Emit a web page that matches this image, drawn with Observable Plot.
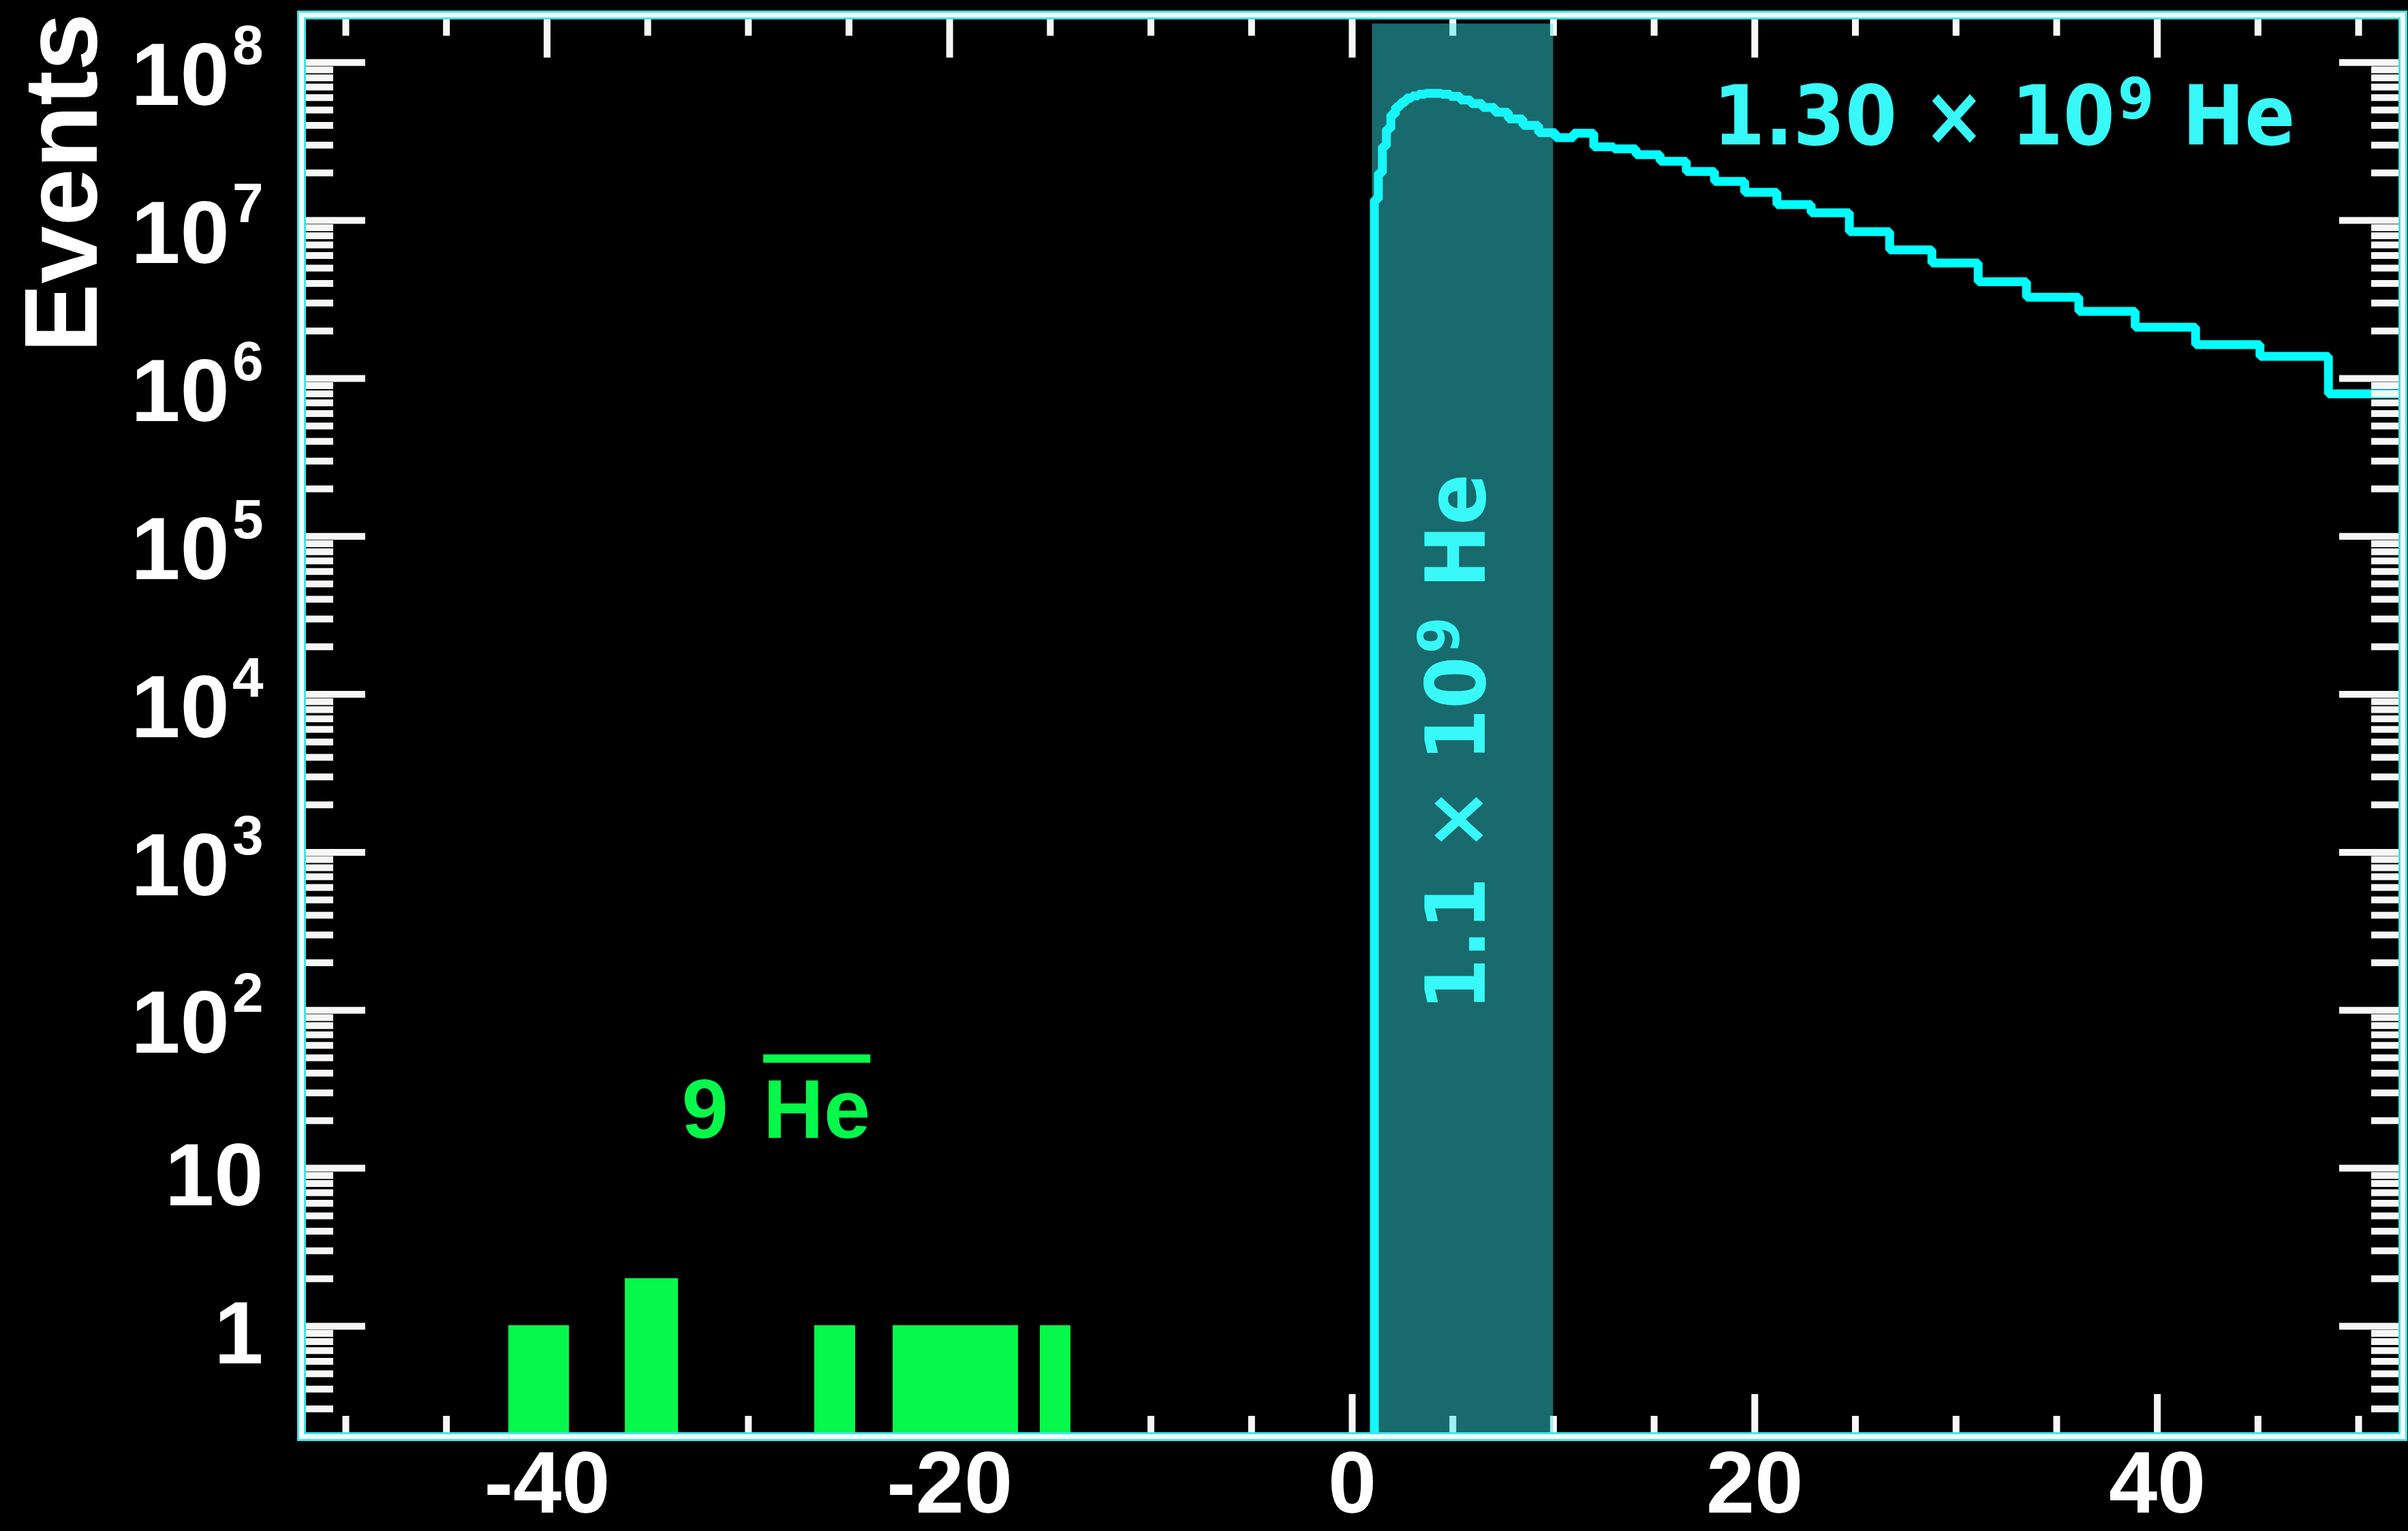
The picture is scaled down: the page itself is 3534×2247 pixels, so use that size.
<!DOCTYPE html>
<html>
<head>
<meta charset="utf-8">
<script src="https://cdn.jsdelivr.net/npm/d3@7"></script>
<script src="https://cdn.jsdelivr.net/npm/@observablehq/plot@0.6"></script>
<style>
html, body { margin: 0; padding: 0; background: #000; }
#chart svg { display: block; }
</style>
</head>
<body>
<div id="chart"></div>
<script>
// ---- Data ----
// Helium (positive rigidity) histogram: bin edges (GV) and events per bin
const heEdges = [1.1, 1.3, 1.5, 1.7, 1.92, 2.15, 2.4, 2.67, 2.97, 3.29, 3.64, 4.02, 4.43, 4.88, 5.37, 5.9, 6.47, 7.09, 7.76, 8.48, 9.26, 10.1, 11.0, 12.0, 13.0, 14.1, 15.3, 16.6, 18.0, 19.5, 21.1, 22.8, 24.7, 26.7, 28.8, 31.1, 33.5, 36.1, 38.9, 41.9, 45.1, 48.5, 52.2];
const heCounts = [1.36e7, 2.0e7, 2.95e7, 3.8e7, 4.7e7, 5.25e7, 5.6e7, 5.95e7, 6.15e7, 6.3e7, 6.38e7, 6.38e7, 6.3e7, 6.1e7, 5.8e7, 5.5e7, 5.2e7, 4.85e7, 4.4e7, 4.0e7, 3.6e7, 3.35e7, 3.57e7, 2.93e7, 2.84e7, 2.61e7, 2.37e7, 2.04e7, 1.77e7, 1.51e7, 1.26e7, 1.12e7, 8.5e6, 6.52e6, 5.38e6, 4.1e6, 3.27e6, 2.66e6, 2.11e6, 1.64e6, 1.38e6, 8.0e5];
// Antihelium candidates (negative rigidity)
const antiLo = [-41.9, -36.1, -26.7, -22.8, -21.1, -19.5, -18.0, -15.5];
const antiHi = [-38.9, -33.5, -24.7, -21.1, -19.5, -18.0, -16.6, -14.0];
const antiCounts = [1, 2, 1, 1, 1, 1, 1, 1];
// Highlighted rigidity band
const bandRange = [1.0, 10.0];
// Axes
const xDomain = [-52.2, 52.2];
const yDomain = [0.2, 2e8];
const xMajorTicks = [-40, -20, 0, 20, 40];
const xMinorTicks = [-50, -45, -35, -30, -25, -15, -10, -5, 5, 10, 15, 25, 30, 35, 45, 50];
const yMajorTicks = [1, 10, 1e2, 1e3, 1e4, 1e5, 1e6, 1e7, 1e8];
const yTickLabels = ["1", "10", "10^2", "10^3", "10^4", "10^5", "10^6", "10^7", "10^8"];
// Texts
const yAxisTitle = "Events";
const heTotalLabel = "1.30 × 10^9 He";
const bandLabel = "1.1 × 10^9 He";
const antiCountLabel = "9";
const antiSymbol = "He";

// ---- Derived tables ----
const yMinorTicks = [];
for (let e = -1; e <= 8; e++) {
  for (let m = 2; m <= 9; m++) {
    const v = m * Math.pow(10, e);
    if (v > yDomain[0] * 1.01 && v < yDomain[1] * 0.99) yMinorTicks.push(v);
  }
}
const hePoints = [{x: heEdges[0], y: yDomain[0]}];
heCounts.forEach((c, i) => hePoints.push({x: heEdges[i], y: c}));
hePoints.push({x: heEdges[heEdges.length - 1], y: heCounts[heCounts.length - 1]});
const antiBins = antiCounts.map((c, i) => ({x1: antiLo[i], x2: antiHi[i], n: c}));
const yLabelFor = new Map(yMajorTicks.map((v, i) => [v, yTickLabels[i]]));

const tickStroke = "#f6f6f6";
const cyan = "#00ffff";
const cyanText = "#38f8f8";
const green = "#06f84a";
const sans = "'Liberation Sans', Arial, Helvetica, sans-serif";
const verd = "'DejaVu Sans', Verdana, sans-serif";

function tickAxis(fn, anchor, ticks, size) {
  return fn({anchor, ticks, tickSize: size, fill: "none", label: null, stroke: tickStroke, strokeWidth: 10});
}

const chart = Plot.plot({
  width: 3534,
  height: 2247,
  marginLeft: 442,
  marginRight: 8,
  marginTop: 21.5,
  marginBottom: 139,
  style: {background: "black", color: "white", fontFamily: sans, fontWeight: "bold"},
  x: {domain: xDomain},
  y: {type: "log", domain: yDomain},
  marks: [
    Plot.line(hePoints, {x: "x", y: "y", curve: "step-after", stroke: cyan, strokeWidth: 13, strokeLinejoin: "miter", strokeLinecap: "butt"}),
    tickAxis(Plot.axisY, "left", yMajorTicks, -94),
    tickAxis(Plot.axisY, "left", yMinorTicks, -47),
    tickAxis(Plot.axisY, "right", yMajorTicks, -94),
    tickAxis(Plot.axisY, "right", yMinorTicks, -47),
    tickAxis(Plot.axisX, "bottom", xMajorTicks, -62),
    tickAxis(Plot.axisX, "bottom", xMinorTicks, -30),
    tickAxis(Plot.axisX, "top", xMajorTicks, -62),
    tickAxis(Plot.axisX, "top", xMinorTicks, -30),
    Plot.rect([bandRange], {x1: d => d[0], x2: d => d[1], fill: "rgb(53,236,240)", fillOpacity: 0.45, insetTop: 13}),
    Plot.rect(antiBins, {x1: "x1", x2: "x2", y1: yDomain[0], y2: "n", fill: green, stroke: green, strokeWidth: 1, shapeRendering: "crispEdges"}),
    Plot.axisY({anchor: "left", ticks: yMajorTicks, tickSize: 0, tickPadding: 56, stroke: "none", fill: "white",
      tickFormat: d => yLabelFor.get(d), fontSize: 130, fontWeight: "bold", fontFamily: sans, dy: 13, label: null}),
    Plot.axisX({anchor: "bottom", ticks: xMajorTicks, tickSize: 0, tickPadding: 21, stroke: "none", fill: "white",
      tickFormat: d => String(d), fontSize: 128, fontWeight: "bold", fontFamily: sans, label: null}),
    Plot.text([yAxisTitle], {frameAnchor: "top-left", dx: -301, dy: 246.5, rotate: -90, textAnchor: "middle", lineAnchor: "bottom",
      fontSize: 152, fontWeight: "bold", fontFamily: sans, fill: "white"}),
    Plot.text([heTotalLabel], {x: 32.39, y: 3.02e7, text: d => d, textAnchor: "middle", lineAnchor: "bottom",
      fontSize: 121, fontWeight: "bold", fontFamily: verd, fill: cyanText}),
    Plot.text([bandLabel], {x: 6.6, y: 4970, text: d => d, rotate: -90, textAnchor: "middle", lineAnchor: "bottom",
      fontSize: 121, fontWeight: "bold", fontFamily: verd, fill: cyanText}),
    Plot.text([antiCountLabel], {x: -32.15, y: 15.5, text: d => d, textAnchor: "middle", lineAnchor: "bottom",
      fontSize: 123, fontWeight: "bold", fontFamily: sans, fill: green}),
    Plot.text([antiSymbol], {x: -26.6, y: 15.5, text: d => d, textAnchor: "middle", lineAnchor: "bottom",
      fontSize: 123, fontWeight: "bold", fontFamily: sans, fill: green}),
    Plot.frame({stroke: "#3ee6e6", strokeWidth: 13}),
    Plot.frame({stroke: "#f4ffff", strokeWidth: 7})
  ]
});

document.getElementById("chart").appendChild(chart);

// ---- Typographic post-processing (superscripts, text widths, overline) ----
const NS = "http://www.w3.org/2000/svg";
function tspan(parent, text, attrs) {
  const s = document.createElementNS(NS, "tspan");
  s.textContent = text;
  for (const k in attrs) s.setAttribute(k, attrs[k]);
  parent.appendChild(s);
  return s;
}
chart.querySelectorAll('g[aria-label="y-axis tick label"] text').forEach(t => {
  const m = t.textContent.match(/^(\d+)\^(\d+)$/);
  if (!m) return;
  t.textContent = "";
  tspan(t, m[1], {});
  tspan(t, m[2], {"font-size": "82", "dy": "-60", "dx": "4"});
  t.setAttribute("transform", (t.getAttribute("transform") || "") + " translate(0,8)");
});
chart.querySelectorAll("text").forEach(t => {
  const s = t.textContent;
  if (s === heTotalLabel || s === bandLabel) {
    const m = s.match(/^(.*)\^(\d+)(.*)$/);
    t.textContent = "";
    tspan(t, m[1], {});
    tspan(t, m[2], {"font-size": "84", "dy": "-38", "dx": "5"});
    tspan(t, m[3], {"dy": "38", "dx": "4"});
    const target = s === heTotalLabel ? 846 : 780;
    const natural = t.getComputedTextLength();
    const k = natural > 0 ? target / natural : 0.9;
    t.setAttribute("transform", (t.getAttribute("transform") || "") + ` scale(${k.toFixed(4)},1)`);
  } else if (s === antiSymbol) {
    t.style.textDecoration = "overline";
    t.style.textDecorationThickness = "11px";
  }
});
</script>
</body>
</html>
